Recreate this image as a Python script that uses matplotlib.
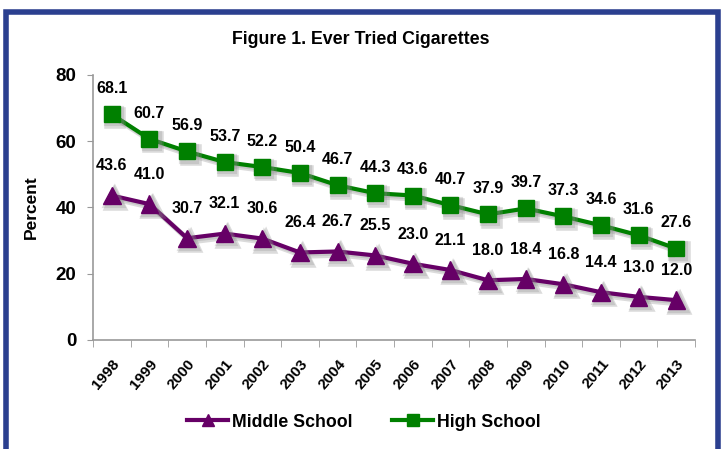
import matplotlib.pyplot as plt
import matplotlib.patheffects as pe
from matplotlib.lines import Line2D
from matplotlib.patches import Rectangle
import numpy as np

plt.rcParams['font.family'] = ['Liberation Sans', 'DejaVu Sans']
plt.rcParams['font.weight'] = 'bold'

years = ['1998', '1999', '2000', '2001', '2002', '2003', '2004', '2005',
         '2006', '2007', '2008', '2009', '2010', '2011', '2012', '2013']
middle = [43.6, 41.0, 30.7, 32.1, 30.6, 26.4, 26.7, 25.5,
          23.0, 21.1, 18.0, 18.4, 16.8, 14.4, 13.0, 12.0]
high = [68.1, 60.7, 56.9, 53.7, 52.2, 50.4, 46.7, 44.3,
        43.6, 40.7, 37.9, 39.7, 37.3, 34.6, 31.6, 27.6]

purple = '#660066'
green = '#008000'

fig = plt.figure(figsize=(7.21, 4.49), dpi=100)
ax = fig.add_axes([0.129, 0.243, 0.835, 0.590])

x = np.arange(len(years))
# soft drop shadow under the lines and markers
shadow = [pe.SimpleLineShadow(offset=(2.5, -2.5), shadow_color='#888888', alpha=0.3, linewidth=4),
          pe.SimpleLineShadow(offset=(1.5, -1.5), shadow_color='#888888', alpha=0.25, linewidth=3),
          pe.Normal()]

ax.plot(x, middle, color=purple, lw=3, marker='^', ms=12.5,
        path_effects=shadow, zorder=3)
ax.plot(x, high, color=green, lw=3, marker='s', ms=11.5,
        path_effects=shadow, zorder=3)

for xi, v in zip(x, middle):
    ax.annotate(f'{v:.1f}', (xi, v), xytext=(0, 16), textcoords='offset points',
                ha='center', va='bottom', fontsize=11.5, fontweight='bold')
for xi, v in zip(x, high):
    ax.annotate(f'{v:.1f}', (xi, v), xytext=(0, 13), textcoords='offset points',
                ha='center', va='bottom', fontsize=11.5, fontweight='bold')

ax.set_xlim(-0.5, len(years) - 0.5)
ax.set_ylim(0, 80)
ax.set_yticks([0, 20, 40, 60, 80])
ax.tick_params(axis='y', labelsize=13.5, length=4, color='#999999', pad=8)
ax.set_xticks(x)
ax.set_xticklabels(years, rotation=50, ha='right', rotation_mode='anchor', fontsize=11)
ax.tick_params(axis='x', length=0, pad=12)
ax.set_xticks(np.arange(-0.5, len(years)), minor=True)
ax.tick_params(axis='x', which='minor', length=5, color='#999999')

for s in ['top', 'right']:
    ax.spines[s].set_visible(False)
for s in ['left', 'bottom']:
    ax.spines[s].set_color('#999999')
    ax.spines[s].set_linewidth(1.2)

ax.set_ylabel('Percent', fontsize=12.5, fontweight='bold', labelpad=12)
fig.text(0.5, 0.913, 'Figure 1. Ever Tried Cigarettes', ha='center', va='center',
         fontsize=12.8, fontweight='bold')

handles = [Line2D([], [], color=purple, lw=3, marker='^', ms=9),
           Line2D([], [], color=green, lw=3, marker='s', ms=8.5)]
fig.legend(handles, ['Middle School', 'High School'], loc='center',
           bbox_to_anchor=(0.505, 0.06), ncol=2, frameon=False, fontsize=12.8,
           handlelength=2.3, handletextpad=0.25, columnspacing=2.2)

# blue frame around the figure
fig.add_artist(Rectangle((0.0090, -0.05), 0.9875, 1.0237, transform=fig.transFigure,
                         fill=False, edgecolor='#2B3F8F', linewidth=4, clip_on=False))

fig.savefig('out.png', dpi=100)
